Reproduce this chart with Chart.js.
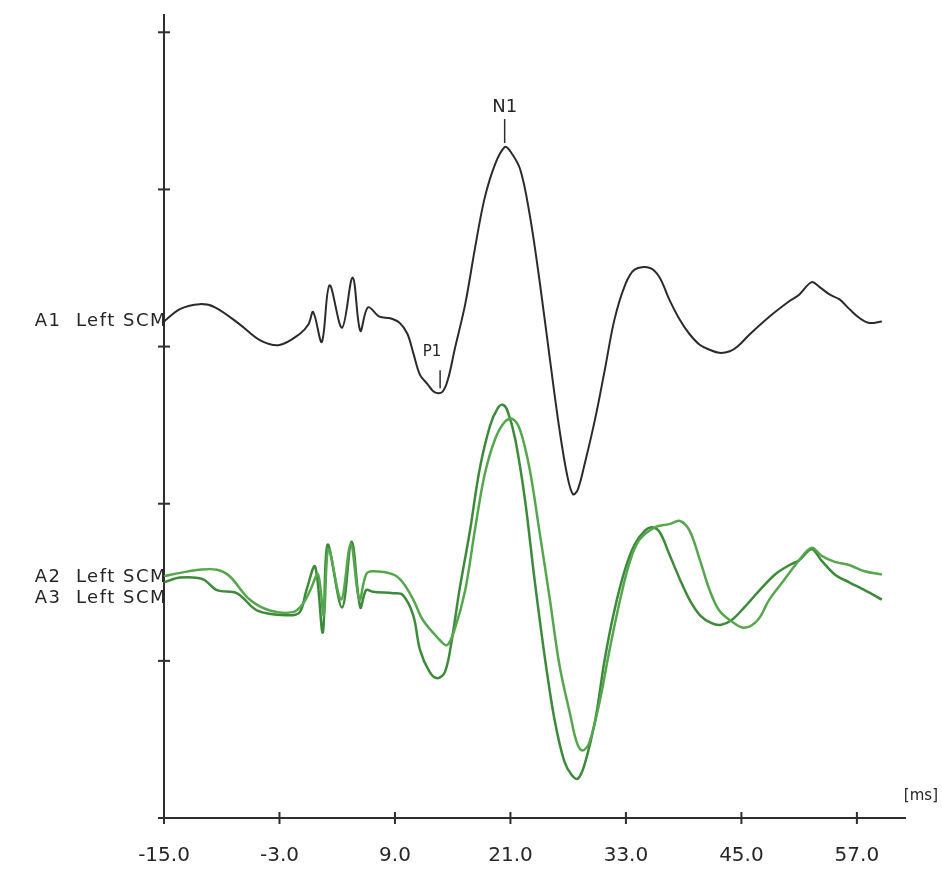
<!DOCTYPE html>
<html>
<head>
<meta charset="utf-8">
<script src="https://cdn.jsdelivr.net/npm/chart.js@4/dist/chart.umd.min.js"></script>
<style>
  html, body { margin: 0; padding: 0; background: #fff; }
  canvas { display: block; }
</style>
</head>
<body>
<canvas id="vemp" width="942" height="876"></canvas>
<script>
// VEMP traces, left SCM, time in ms, amplitude in display divisions

const X_TICKS = [-15, -3, 9, 21, 33, 45, 57];
const Y_TICKS = [0, 1, 2, 3, 4, 5];

const CHANNELS = ["A1  Left SCM", "A2  Left SCM", "A3  Left SCM"];
const CHANNEL_LABEL_Y = [3.16, 1.53, 1.40];
const CHANNEL_COLORS = ["#2b2b2b", "#55a64c", "#3d8a3a"];

const A1_TIME = [-15.0, -13.3, -11.3, -9.7, -7.1, -5.0, -3.0, -0.9, 0.0, 0.5, 1.4, 2.2, 3.5, 4.6, 5.4, 6.2, 7.4, 8.5, 9.5, 10.3,
  10.9, 11.6, 12.4, 13.1, 13.9, 14.5, 15.2, 16.3, 17.3, 18.3, 19.4, 20.4, 20.9, 22.0, 23.0, 24.0, 25.1, 26.1, 26.9, 27.5,
  28.0, 28.7, 29.8, 30.8, 31.8, 32.9, 33.9, 35.5, 36.5, 37.5, 38.6, 39.6, 40.7, 41.7, 42.7, 43.8, 44.6, 45.9, 47.9, 50.0,
  51.0, 52.3, 53.1, 54.2, 55.2, 56.2, 57.3, 58.3, 59.6];
const A1_VALUES = [3.16, 3.24, 3.27, 3.25, 3.14, 3.04, 3.01, 3.08, 3.14, 3.22, 3.03, 3.39, 3.12, 3.44, 3.10, 3.25, 3.19, 3.18, 3.15, 3.08,
  2.96, 2.82, 2.76, 2.71, 2.71, 2.79, 2.98, 3.27, 3.62, 3.94, 4.16, 4.27, 4.25, 4.13, 3.84, 3.43, 2.92, 2.47, 2.18, 2.06,
  2.09, 2.25, 2.54, 2.85, 3.17, 3.39, 3.49, 3.50, 3.44, 3.30, 3.17, 3.08, 3.01, 2.98, 2.96, 2.97, 3.00, 3.08, 3.19, 3.29,
  3.33, 3.41, 3.38, 3.33, 3.30, 3.24, 3.18, 3.15, 3.16];

const A2_TIME = [-15.0, -13.3, -11.3, -9.5, -8.2, -6.1, -4.0, -1.6, -0.6, 0.2, 1.0, 1.6, 2.1, 3.4, 4.4, 5.3, 6.0, 6.7, 8.8, 9.8,
  10.9, 11.9, 13.4, 14.4, 15.2, 16.3, 17.3, 18.3, 19.4, 20.4, 21.2, 22.0, 23.0, 24.0, 25.1, 26.1, 27.2, 27.9, 28.5, 29.2,
  30.3, 31.3, 32.4, 33.4, 34.4, 36.0, 37.5, 38.6, 39.6, 40.7, 41.7, 42.7, 44.0, 45.3, 46.7, 47.9, 49.5, 51.0, 52.3, 53.3,
  54.7, 56.2, 57.8, 59.6];
const A2_VALUES = [1.54, 1.56, 1.58, 1.58, 1.54, 1.39, 1.32, 1.31, 1.36, 1.45, 1.55, 1.29, 1.71, 1.39, 1.74, 1.39, 1.55, 1.57, 1.55, 1.50,
  1.39, 1.26, 1.15, 1.10, 1.20, 1.45, 1.83, 2.18, 2.41, 2.52, 2.54, 2.47, 2.22, 1.83, 1.39, 0.97, 0.66, 0.48, 0.43, 0.48,
  0.75, 1.07, 1.39, 1.63, 1.77, 1.85, 1.87, 1.89, 1.83, 1.64, 1.45, 1.32, 1.25, 1.21, 1.26, 1.39, 1.52, 1.64, 1.72, 1.67,
  1.63, 1.61, 1.57, 1.55];

const A3_TIME = [-15.0, -13.3, -11.0, -9.5, -7.4, -5.3, -2.2, -0.9, -0.2, 0.7, 1.5, 2.0, 3.5, 4.5, 5.4, 6.0, 6.7, 8.8, 9.8, 10.9,
  11.6, 12.6, 13.4, 14.2, 14.9, 15.7, 16.8, 17.8, 18.9, 19.7, 20.2, 20.7, 21.5, 22.5, 23.5, 24.6, 25.6, 26.6, 27.4, 28.0,
  28.7, 29.8, 30.8, 31.8, 32.9, 33.9, 35.0, 35.7, 36.5, 37.5, 38.6, 39.6, 40.7, 41.9, 42.9, 44.0, 45.3, 46.9, 48.5, 50.0,
  51.0, 52.3, 53.3, 54.7, 56.2, 57.8, 59.6];
const A3_VALUES = [1.50, 1.53, 1.52, 1.45, 1.43, 1.32, 1.29, 1.31, 1.45, 1.60, 1.18, 1.74, 1.34, 1.76, 1.34, 1.45, 1.44, 1.43, 1.42, 1.29,
  1.07, 0.93, 0.89, 0.93, 1.13, 1.45, 1.83, 2.22, 2.50, 2.61, 2.63, 2.59, 2.41, 2.03, 1.52, 1.01, 0.62, 0.36, 0.27, 0.25,
  0.34, 0.62, 1.01, 1.32, 1.58, 1.74, 1.83, 1.85, 1.82, 1.68, 1.52, 1.39, 1.29, 1.24, 1.23, 1.26, 1.34, 1.45, 1.55, 1.61,
  1.64, 1.71, 1.64, 1.55, 1.50, 1.45, 1.39];

// peak markers on the A1 trace
const MARKER_LABELS = ["N1", "P1"];
const MARKER_TIMES = [20.4, 13.9];

const AXIS_COLOR = "#2e2e2e";
const TEXT_COLOR = "#262626";
const FONT = "DejaVu Sans";

function toPoints(times, values) {
  return times.map((t, i) => ({ x: t, y: values[i] }));
}

// crossing tick marks, channel names, peak markers and unit label
const decorPlugin = {
  id: "vempDecor",
  afterDraw(chart) {
    const { ctx, chartArea: area, scales: { x, y } } = chart;
    ctx.save();
    ctx.strokeStyle = AXIS_COLOR;
    ctx.lineWidth = 2;

    X_TICKS.forEach(v => {
      const px = x.getPixelForValue(v);
      ctx.beginPath();
      ctx.moveTo(px, area.bottom - 6);
      ctx.lineTo(px, area.bottom + 6);
      ctx.stroke();
    });
    Y_TICKS.forEach(v => {
      const py = y.getPixelForValue(v);
      ctx.beginPath();
      ctx.moveTo(area.left - 6, py);
      ctx.lineTo(area.left + 6, py);
      ctx.stroke();
    });

    // channel names left of the axis
    ctx.fillStyle = TEXT_COLOR;
    ctx.font = "18px '" + FONT + "'";
    ctx.letterSpacing = "1.5px";
    ctx.textAlign = "right";
    ctx.textBaseline = "middle";
    CHANNELS.forEach((name, i) => {
      ctx.fillText(name, area.left + 3, y.getPixelForValue(CHANNEL_LABEL_Y[i]));
    });
    ctx.letterSpacing = "0px";

    // N1 / P1 markers
    const a1 = chart.getDatasetMeta(0).data;
    MARKER_LABELS.forEach((label, i) => {
      const idx = A1_TIME.indexOf(MARKER_TIMES[i]);
      const pt = a1[idx];
      const isPeak = label.startsWith("N");
      const mx = isPeak ? pt.x : pt.x - 2;
      ctx.beginPath();
      ctx.lineWidth = 1.5;
      ctx.moveTo(mx, pt.y - 4);
      ctx.lineTo(mx, pt.y - (isPeak ? 28 : 22));
      ctx.stroke();
      ctx.textAlign = "center";
      ctx.textBaseline = "middle";
      ctx.font = (isPeak ? "18px '" : "15px '") + FONT + "'";
      ctx.fillText(label, isPeak ? mx : mx - 8, pt.y - 40);
    });

    ctx.font = "15px '" + FONT + "'";
    ctx.textAlign = "right";
    ctx.fillText("[ms]", 938, area.bottom - 22);
    ctx.restore();
  }
};

new Chart(document.getElementById("vemp").getContext("2d"), {
  type: "line",
  data: {
    datasets: [
      { label: CHANNELS[0], data: toPoints(A1_TIME, A1_VALUES), borderColor: CHANNEL_COLORS[0], borderWidth: 2 },
      { label: CHANNELS[1], data: toPoints(A2_TIME, A2_VALUES), borderColor: CHANNEL_COLORS[1], borderWidth: 2.5 },
      { label: CHANNELS[2], data: toPoints(A3_TIME, A3_VALUES), borderColor: CHANNEL_COLORS[2], borderWidth: 2.5 }
    ]
  },
  options: {
    responsive: false,
    animation: false,
    elements: {
      point: { radius: 0 },
      line: { tension: 0.35, fill: false }
    },
    layout: { padding: { top: 15, right: 37, left: 0, bottom: 0 } },
    plugins: { legend: { display: false }, tooltip: { enabled: false } },
    scales: {
      x: {
        type: "linear",
        min: -15,
        max: 62,
        afterBuildTicks: s => { s.ticks = X_TICKS.map(v => ({ value: v })); },
        afterFit: s => { s.height = 58; },
        grid: { display: false, drawTicks: false },
        border: { display: true, color: AXIS_COLOR, width: 2 },
        ticks: {
          padding: 26,
          color: TEXT_COLOR,
          font: { family: FONT, size: 20 },
          maxRotation: 0,
          autoSkip: false,
          callback: v => Number(v).toFixed(1)
        }
      },
      y: {
        type: "linear",
        min: 0,
        max: 5.11,
        afterBuildTicks: s => { s.ticks = Y_TICKS.map(v => ({ value: v })); },
        afterFit: s => { s.width = 164; },
        grid: { display: false, drawTicks: false },
        border: { display: true, color: AXIS_COLOR, width: 2 },
        ticks: { display: false }
      }
    }
  },
  plugins: [decorPlugin]
});
</script>
</body>
</html>
